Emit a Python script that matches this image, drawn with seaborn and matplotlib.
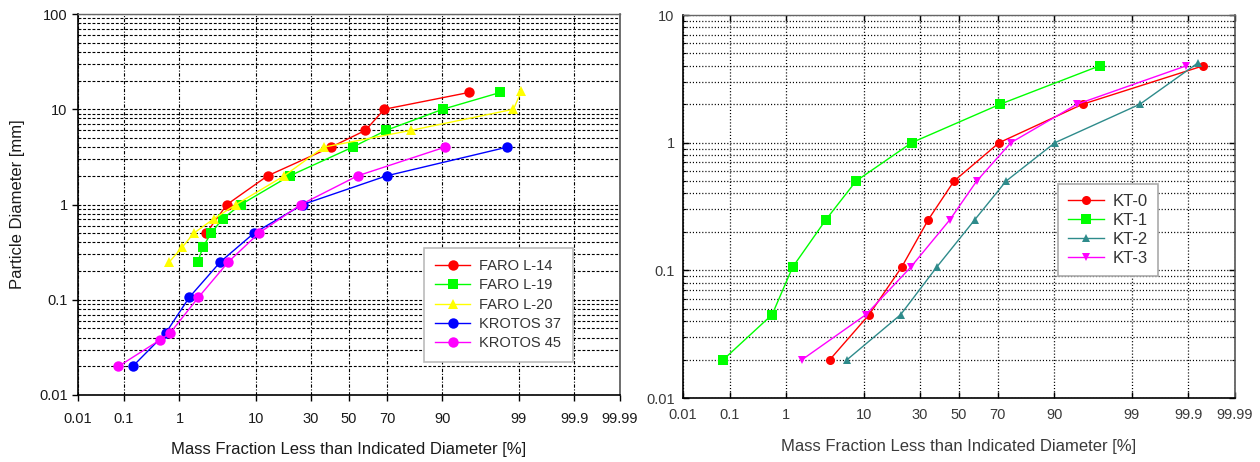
import numpy as np
import pandas as pd
import matplotlib
matplotlib.use("Agg")
import matplotlib.pyplot as plt
import seaborn as sns
from matplotlib.ticker import FixedLocator, LogLocator, FuncFormatter, NullFormatter
from statistics import NormalDist

plt.rcParams["font.family"] = ["Liberation Sans", "DejaVu Sans"]

# ---------------- data: cumulative mass fraction (%) vs particle diameter (mm)
faro_l14_pct = [2.5, 4.7, 13.2, 40.2, 58.9, 68.6, 95.0]
faro_l14_mm = [0.5, 1, 2, 4, 6, 10, 15]

faro_l19_pct = [1.9, 2.24, 2.92, 4.15, 6.9, 20.8, 52.0, 69.4, 90.1, 98.1]
faro_l19_mm = [0.25, 0.355, 0.5, 0.71, 1, 2, 4, 6, 10, 15]

faro_l20_pct = [0.685, 1.1, 1.66, 3.2, 6.06, 18.7, 36.4, 80.2, 98.8, 99.1]
faro_l20_mm = [0.25, 0.355, 0.5, 0.71, 1, 2, 4, 6, 10, 15.5]

krotos37_pct = [0.15, 0.6, 1.42, 3.88, 9.6, 26.3, 69.7, 98.5]
krotos37_mm = [0.02, 0.045, 0.106, 0.25, 0.5, 1, 2, 4]

krotos45_pct = [0.078, 0.48, 0.71, 1.94, 4.9, 10.8, 25.5, 54.7, 90.6]
krotos45_mm = [0.02, 0.038, 0.045, 0.106, 0.25, 0.5, 1, 2, 4]

kt0_pct = [4.1, 11.3, 22.0, 34.0, 47.3, 70.6, 95.2, 99.95]
kt0_mm = [0.02, 0.045, 0.106, 0.25, 0.5, 1, 2, 4]

kt1_pct = [0.075, 0.59, 1.25, 3.66, 8.26, 26.2, 71.0, 97.1]
kt1_mm = [0.02, 0.045, 0.106, 0.25, 0.5, 1, 2, 4]

kt2_pct = [6.6, 21.6, 38.2, 58.5, 73.7, 90.2, 99.26, 99.935]
kt2_mm = [0.02, 0.045, 0.106, 0.25, 0.5, 1, 2, 4.2]

kt3_pct = [1.73, 10.5, 25.8, 45.2, 59.4, 75.8, 94.4, 99.89]
kt3_mm = [0.02, 0.045, 0.106, 0.25, 0.5, 1, 2, 4]

prob_ticks = [0.01, 0.1, 1, 10, 30, 50, 70, 90, 99, 99.9, 99.99]
prob_labels = ["0.01", "0.1", "1", "10", "30", "50", "70", "90", "99", "99.9", "99.99"]

left_names = ["FARO L-14", "FARO L-19", "FARO L-20", "KROTOS 37", "KROTOS 45"]
left_colors = {"FARO L-14": "#ff0000", "FARO L-19": "#00ff00", "FARO L-20": "#ffff00",
               "KROTOS 37": "#0000ff", "KROTOS 45": "#ff00ff"}
left_markers = {"FARO L-14": "o", "FARO L-19": "s", "FARO L-20": "^",
                "KROTOS 37": "o", "KROTOS 45": "o"}

right_names = ["KT-0", "KT-1", "KT-2", "KT-3"]
right_colors = {"KT-0": "#ff0000", "KT-1": "#00ff00", "KT-2": "#2e8b8b", "KT-3": "#ff00ff"}
right_markers = {"KT-0": "o", "KT-1": "s", "KT-2": "^", "KT-3": "v"}


def long_frame(names, pcts, mms):
    rows = []
    for n, p, d in zip(names, pcts, mms):
        rows.append(pd.DataFrame({"pct": p, "mm": d, "sample": n}))
    return pd.concat(rows, ignore_index=True)


df_left = long_frame(left_names,
                     [faro_l14_pct, faro_l19_pct, faro_l20_pct, krotos37_pct, krotos45_pct],
                     [faro_l14_mm, faro_l19_mm, faro_l20_mm, krotos37_mm, krotos45_mm])
df_right = long_frame(right_names,
                      [kt0_pct, kt1_pct, kt2_pct, kt3_pct],
                      [kt0_mm, kt1_mm, kt2_mm, kt3_mm])

# ---------------- normal-probability x scale
_N = NormalDist()
_ppf = np.vectorize(_N.inv_cdf, otypes=[float])
_cdf = np.vectorize(_N.cdf, otypes=[float])


def prob_fwd(p):
    q = np.clip(np.asarray(p, dtype=float) / 100.0, 1e-9, 1 - 1e-9)
    return _ppf(q)


def prob_inv(z):
    return _cdf(np.asarray(z, dtype=float)) * 100.0


def fmt_g(v, pos):
    return "%g" % v


fig = plt.figure(figsize=(12.6, 4.62), dpi=100)
ax1 = fig.add_axes([78 / 1260, 1 - 395 / 462, 542 / 1260, 381 / 462])
ax2 = fig.add_axes([683 / 1260, 1 - 398 / 462, 552 / 1260, 383 / 462])

# ---------------- left panel
sns.lineplot(data=df_left, x="pct", y="mm", hue="sample", style="sample",
             hue_order=left_names, style_order=left_names,
             palette=left_colors, markers=left_markers, dashes=False,
             estimator=None, sort=False, linewidth=1.0, markersize=7.5,
             markeredgewidth=0, ax=ax1, zorder=3)

# ---------------- right panel
sns.lineplot(data=df_right, x="pct", y="mm", hue="sample", style="sample",
             hue_order=right_names, style_order=right_names,
             palette=right_colors, markers=right_markers, dashes=False,
             estimator=None, sort=False, linewidth=1.0, markersize=6.5,
             markeredgewidth=0, ax=ax2, zorder=3)

for ax, ylim in ((ax1, (0.01, 100)), (ax2, (0.01, 10))):
    ax.set_xscale("function", functions=(prob_fwd, prob_inv))
    ax.set_yscale("log")
    ax.set_xlim(0.01, 99.99)
    ax.set_ylim(*ylim)
    ax.xaxis.set_major_locator(FixedLocator(prob_ticks))
    ax.set_xticklabels(prob_labels)
    ax.xaxis.set_minor_locator(FixedLocator([]))
    ax.yaxis.set_major_locator(LogLocator(base=10, numticks=20))
    ax.yaxis.set_minor_locator(LogLocator(base=10, subs=np.arange(2, 10), numticks=100))
    ax.yaxis.set_major_formatter(FuncFormatter(fmt_g))
    ax.yaxis.set_minor_formatter(NullFormatter())
    ax.set_axisbelow(True)

# grids
ax1.grid(True, which="both", axis="y", color="black", linewidth=0.8,
         linestyle=(0, (2.6, 1.6)))
ax1.grid(True, which="major", axis="x", color="black", linewidth=0.8,
         linestyle=(0, (3, 1.5, 1, 1.5)))
ax2.grid(True, which="both", axis="y", color="black", linewidth=0.9,
         linestyle=(0, (0.9, 1.6)))
ax2.grid(True, which="major", axis="x", color="black", linewidth=0.9,
         linestyle=(0, (0.9, 1.6)))

# spines
for ax in (ax1, ax2):
    ax.spines["left"].set_color("black")
    ax.spines["bottom"].set_color("black")
    ax.spines["left"].set_linewidth(1.2)
    ax.spines["bottom"].set_linewidth(1.2)
    ax.spines["top"].set_color("#666666")
    ax.spines["right"].set_color("#555555")
    ax.spines["top"].set_linewidth(1.0)
    ax.spines["right"].set_linewidth(1.2)
    for s in ax.spines.values():
        s.set_zorder(4)

# ticks
ax1.tick_params(axis="x", which="major", direction="out", length=4, width=1,
                pad=8, labelsize=10.5, labelcolor="#1a1a1a")
ax1.tick_params(axis="y", which="major", direction="out", length=4, width=1,
                pad=3.5, labelsize=10.5, labelcolor="#1a1a1a")
ax1.tick_params(axis="y", which="minor", length=0)

ax2.tick_params(axis="both", which="major", direction="in", length=4, width=1,
                top=True, right=True, labelsize=10.5, labelcolor="#3a3a3a")
ax2.tick_params(axis="x", which="major", pad=7)
ax2.tick_params(axis="y", which="major", pad=6)
ax2.tick_params(axis="y", which="minor", direction="in", length=2.5, width=0.8,
                left=True, right=True)

# labels
ax1.set_xlabel("Mass Fraction Less than Indicated Diameter [%]", fontsize=12,
               labelpad=12, color="#1a1a1a")
ax1.set_ylabel("Particle Diameter [mm]", fontsize=12, labelpad=10, color="#1a1a1a")
ax2.set_xlabel("Mass Fraction Less than Indicated Diameter [%]", fontsize=12,
               labelpad=12.5, color="#3a3a3a")
ax2.set_ylabel("")

# legends
sns.move_legend(ax1, "lower right", bbox_to_anchor=(0.913, 0.087), title=None,
                fontsize=10.5, frameon=True, fancybox=False, edgecolor="#bbbbbb",
                framealpha=1, handlelength=2.4, handletextpad=0.6,
                labelspacing=0.36, borderpad=0.8, borderaxespad=0)
sns.move_legend(ax2, "lower right", bbox_to_anchor=(0.8605, 0.3185), title=None,
                fontsize=12, frameon=True, fancybox=False, edgecolor="#aaaaaa",
                framealpha=1, handlelength=2.2, handletextpad=0.5,
                labelspacing=0.25, borderpad=0.6, borderaxespad=0)

# triangles read smaller than circles/squares on the KT panel
for ln in ax2.get_lines():
    if ln.get_marker() in ("^", "v"):
        ln.set_markersize(5.5)

for ax in (ax1, ax2):
    leg = ax.get_legend()
    leg.get_frame().set_linewidth(1.2)
    leg.set_zorder(5)
    for t in leg.get_texts():
        t.set_color("#333333")
    if ax is ax2:
        for h in leg.legend_handles:
            if h.get_marker() in ("^", "v"):
                h.set_markersize(5.5)

fig.savefig("out.png", dpi=100)
